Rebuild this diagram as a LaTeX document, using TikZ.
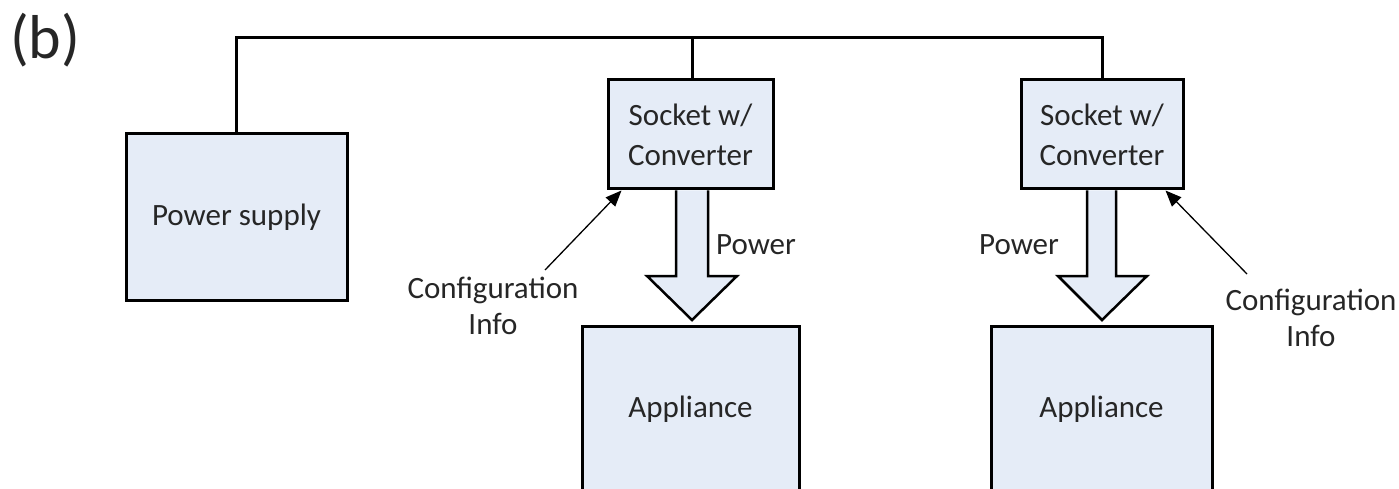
\documentclass[tikz,border=0pt]{standalone}
\usepackage{fontspec}
\setmainfont{Carlito}
\usetikzlibrary{arrows.meta,calc}
\definecolor{boxfill}{RGB}{229,236,247}
\definecolor{ink}{RGB}{38,38,38}
\tikzset{
 box/.style={draw=black, line width=3pt, fill=boxfill, text=ink, font=\fontsize{31}{40}\selectfont, align=center, inner sep=0pt},
 wire/.style={line width=3pt},
 fat/.style={draw=black, line width=2.5pt, fill=boxfill, line join=miter},
 cfg/.style={line width=1.3pt, -{Triangle[length=16pt,width=13pt]}},
 lbl/.style={text=ink, font=\fontsize{31}{36}\selectfont, align=center, inner sep=0pt}
}
\begin{document}
\begin{tikzpicture}[x=1pt,y=-1pt]
\useasboundingbox (0,0) rectangle (1399,489);
\clip (0,0) rectangle (1399,489);
\node[anchor=base west, inner sep=0pt, text=ink, font=\fontsize{62}{70}\selectfont] (tag) at (10,59) {(b)};
\node[box, minimum width=221pt, minimum height=166pt] (ps) at (236.5,217) {Power supply};
\node[box, minimum width=165pt, minimum height=109pt] (s1) at (690.5,134.5) {Socket w/\\Converter};
\node[box, minimum width=162pt, minimum height=109pt] (s2) at (1102,134.5) {Socket w/\\Converter};
\node[box, minimum width=217pt, minimum height=166pt] (a1) at (690.5,409) {Appliance};
\node[box, minimum width=221pt, minimum height=166pt] (a2) at (1101.5,409) {Appliance};
\coordinate (bus) at (0,38);
\draw[wire] (ps.north) -- (ps.north |- bus) -| (s2.north);
\draw[wire] ([xshift=2pt]s1.north) -- ([xshift=2pt]s1.north |- bus);
\draw[fat] (676,190.5) -- (676,276) -- (647,276) -- (692,320) -- (737,276) -- (708,276) -- (708,190.5);
\draw[fat] (1087,190.5) -- (1087,276) -- (1058,276) -- (1102,320) -- (1147,276) -- (1116,276) -- (1116,190.5);
\node[lbl] (p1) at (756,245) {Power};
\node[lbl] (p2) at (1019,245) {Power};
\node[lbl] (c1) at (493,306) {Configuration\\Info};
\node[lbl] (c2) at (1311,318) {Configuration\\Info};
\coordinate (c1t) at (545,270);
\coordinate (c2t) at (1247,274);
\draw[cfg] (c1t) -- ([xshift=15pt]s1.south west);
\draw[cfg] (c2t) -- ([xshift=-19pt]s2.south east);
\end{tikzpicture}
\end{document}
